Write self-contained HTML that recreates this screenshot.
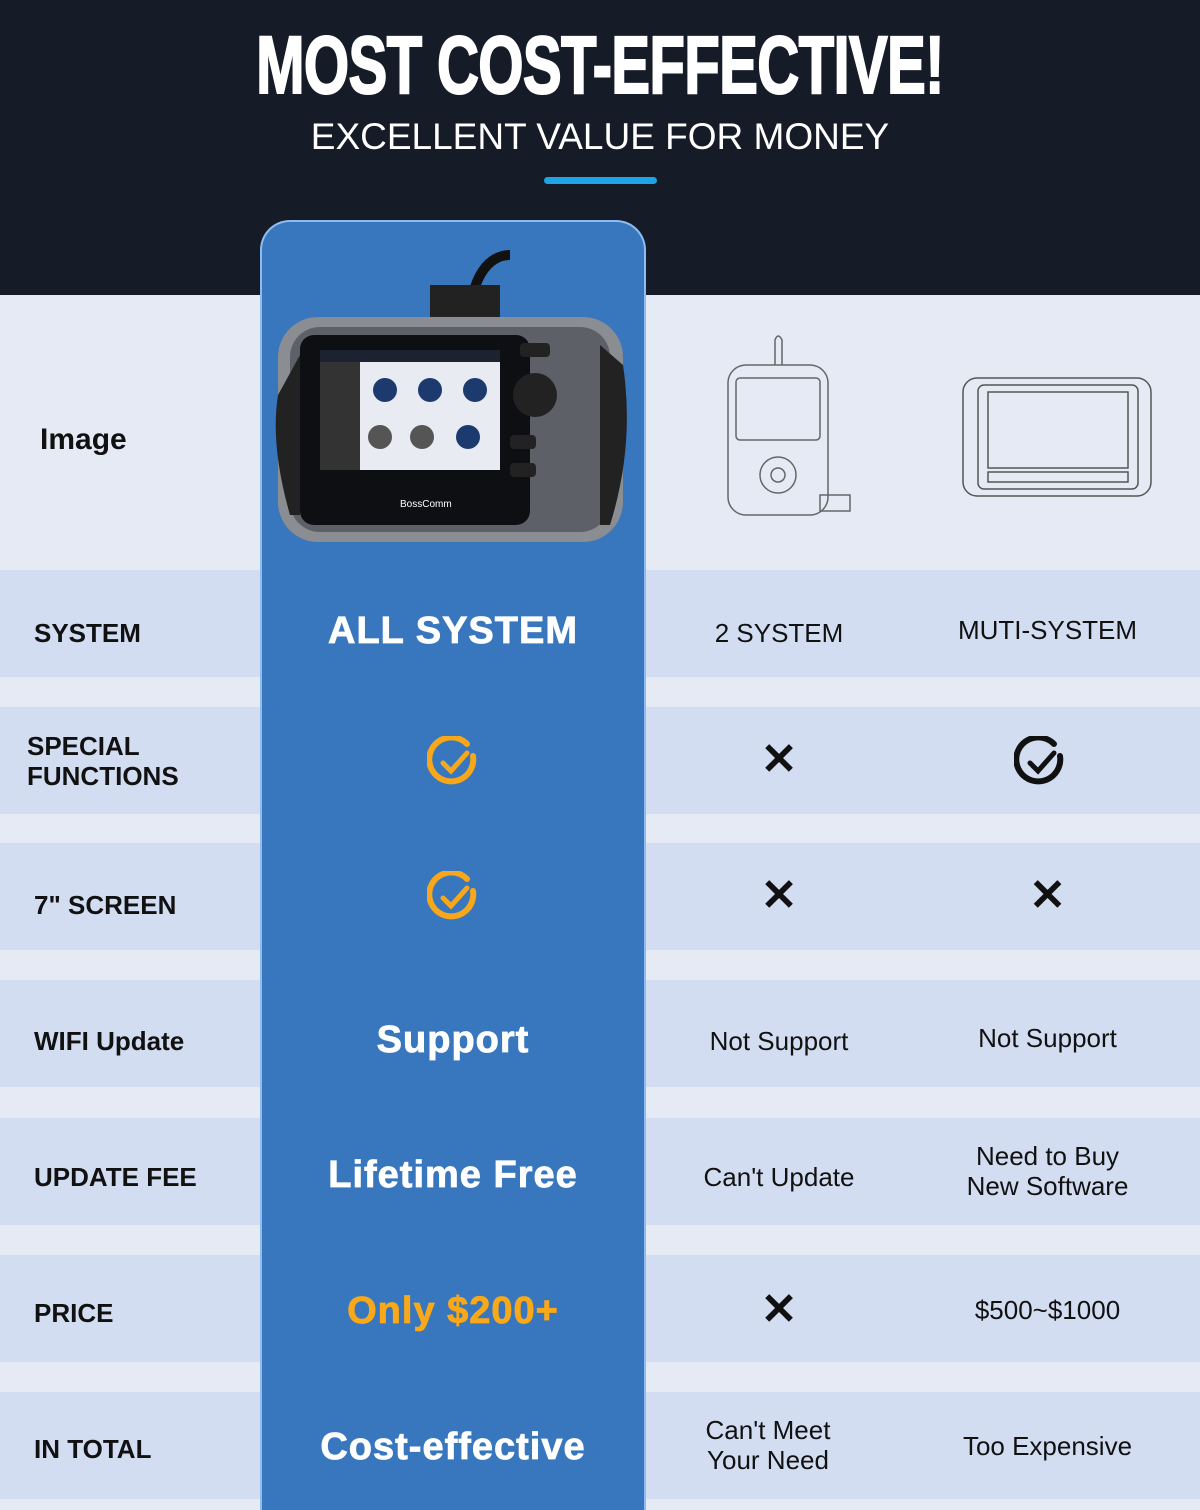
<!DOCTYPE html>
<html><head><meta charset="utf-8"><style>
*{margin:0;padding:0;box-sizing:border-box}
body{width:1200px;height:1500px;position:relative;overflow:hidden;background:#e5eaf5;font-family:"Liberation Sans",sans-serif}
.abs{position:absolute}
.hdr{left:0;top:0;width:1200px;height:295px;background:#151b27}
.title{left:0;top:24px;width:1200px;text-align:center;color:#fff;font-weight:bold;font-size:82px;line-height:84px;transform:scaleX(0.71);letter-spacing:-1px;-webkit-text-stroke:2px #fff}
.sub{left:0;top:116px;width:1200px;text-align:center;color:#fff;font-size:37px}
.bar{left:544px;top:177px;width:113px;height:7px;border-radius:4px;background:#1ea3e6}
.stripe{left:0;width:1200px;height:107px;background:#d3ddf2}
.col{left:260px;top:220px;width:386px;height:1290px;background:#3877bd;border:2px solid #8fbcf0;border-bottom:none;border-radius:30px 30px 0 0}
.lbl{left:34px;font-weight:bold;font-size:26px;color:#111;line-height:30px}
.c1{left:262px;width:382px;text-align:center;color:#fff;font-weight:900;font-size:38px;line-height:40px;letter-spacing:1px;-webkit-text-stroke:0.8px}
.c2{left:648px;width:262px;text-align:center;color:#111;font-size:26px;line-height:30px}
.c3{left:915px;width:265px;text-align:center;color:#111;font-size:26px;line-height:30px}
.x{font-size:44px;font-weight:bold;line-height:44px}
</style></head><body>
<div class="abs hdr"></div>
<div class="abs title">MOST COST-EFFECTIVE!</div>
<div class="abs sub">EXCELLENT VALUE FOR MONEY</div>
<div class="abs bar"></div>
<div class="abs stripe" style="top:570px"></div>
<div class="abs stripe" style="top:707px"></div>
<div class="abs stripe" style="top:843px"></div>
<div class="abs stripe" style="top:980px"></div>
<div class="abs stripe" style="top:1118px"></div>
<div class="abs stripe" style="top:1255px"></div>
<div class="abs stripe" style="top:1392px"></div>
<div class="abs col"></div>

<svg class="abs" style="left:270px;top:245px" width="360" height="310">
<path d="M200 80 C200 30 220 10 240 10" stroke="#111" stroke-width="10" fill="none"/>
<rect x="160" y="40" width="70" height="45" fill="#222"/>
<rect x="8" y="72" width="345" height="225" rx="40" fill="#8a8d92"/>
<rect x="20" y="82" width="320" height="205" rx="30" fill="#5d6066"/>
<rect x="30" y="90" width="230" height="190" rx="14" fill="#0d0f12"/>
<rect x="50" y="105" width="180" height="120" fill="#e8ecf2"/>
<rect x="50" y="105" width="180" height="12" fill="#1c2230"/>
<rect x="50" y="117" width="40" height="108" fill="#333"/>
<circle cx="115" cy="145" r="12" fill="#1d3a6e"/><circle cx="160" cy="145" r="12" fill="#1d3a6e"/><circle cx="205" cy="145" r="12" fill="#1d3a6e"/>
<circle cx="110" cy="192" r="12" fill="#555"/><circle cx="152" cy="192" r="12" fill="#555"/><circle cx="198" cy="192" r="12" fill="#1d3a6e"/>
<rect x="250" y="98" width="30" height="14" rx="4" fill="#222"/>
<circle cx="265" cy="150" r="22" fill="#222"/>
<rect x="240" y="190" width="26" height="14" rx="4" fill="#222"/>
<rect x="240" y="218" width="26" height="14" rx="4" fill="#222"/>
<path d="M8 150 Q0 200 20 270 L30 270 L30 110 Z" fill="#222"/>
<path d="M353 120 Q365 200 340 280 L330 280 L330 100 Z" fill="#222"/>
<text x="130" y="262" fill="#fff" font-size="10" font-family="Liberation Sans">BossComm</text>
</svg>
<svg class="abs" style="left:720px;top:330px" width="140" height="190" fill="none" stroke="#666" stroke-width="1.5">
<path d="M55 35 L55 10 Q58 2 62 10 L62 35"/>
<rect x="8" y="35" width="100" height="150" rx="18"/>
<rect x="16" y="48" width="84" height="62" rx="4"/>
<circle cx="58" cy="145" r="18"/><circle cx="58" cy="145" r="7"/>
<rect x="100" y="165" width="30" height="16"/>
</svg>
<svg class="abs" style="left:958px;top:370px" width="200" height="130" fill="none" stroke="#555" stroke-width="1.5">
<rect x="5" y="8" width="188" height="118" rx="14"/>
<rect x="20" y="15" width="160" height="104" rx="6"/>
<rect x="30" y="22" width="140" height="76"/>
<rect x="30" y="102" width="140" height="10"/>
</svg>

<div class="abs lbl" style="left:40px;top:425px;font-size:30px;font-weight:bold;">Image</div>
<div class="abs lbl" style="top:618px">SYSTEM</div>
<div class="abs lbl" style="left:27px;top:731px">SPECIAL<br>FUNCTIONS</div>
<div class="abs lbl" style="top:890px">7" SCREEN</div>
<div class="abs lbl" style="top:1026px">WIFI Update</div>
<div class="abs lbl" style="top:1162px">UPDATE FEE</div>
<div class="abs lbl" style="top:1298px">PRICE</div>
<div class="abs lbl" style="top:1434px">IN TOTAL</div>

<div class="abs c1" style="top:611px">ALL SYSTEM</div>
<svg class="abs" style="left:427px;top:736px" width="52" height="52"><path d="M40 8 A22 22 0 1 0 46 20" fill="none" stroke="#f7a71b" stroke-width="6" stroke-linecap="round"/><path d="M16 27 L24 35 L40 17" fill="none" stroke="#f7a71b" stroke-width="5" stroke-linecap="round"/></svg>
<svg class="abs" style="left:427px;top:871px" width="52" height="52"><path d="M40 8 A22 22 0 1 0 46 20" fill="none" stroke="#f7a71b" stroke-width="6" stroke-linecap="round"/><path d="M16 27 L24 35 L40 17" fill="none" stroke="#f7a71b" stroke-width="5" stroke-linecap="round"/></svg>
<div class="abs c1" style="top:1020px">Support</div>
<div class="abs c1" style="top:1155px">Lifetime Free</div>
<div class="abs c1" style="top:1291px;color:#f9a81a;-webkit-text-stroke-color:#f9a81a">Only $200+</div>
<div class="abs c1" style="top:1427px">Cost-effective</div>

<div class="abs c2" style="top:618px">2 SYSTEM</div>
<div class="abs c2 x" style="top:738px">✕</div>
<div class="abs c2 x" style="top:874px">✕</div>
<div class="abs c2" style="top:1026px">Not Support</div>
<div class="abs c2" style="top:1162px">Can't Update</div>
<div class="abs c2 x" style="top:1288px">✕</div>
<div class="abs c2" style="top:1415px;left:648px;width:240px">Can't Meet<br>Your Need</div>

<div class="abs c3" style="top:615px">MUTI-SYSTEM</div>
<svg class="abs" style="left:1014px;top:736px" width="52" height="52"><path d="M40 8 A22 22 0 1 0 46 20" fill="none" stroke="#111" stroke-width="6" stroke-linecap="round"/><path d="M16 27 L24 35 L40 17" fill="none" stroke="#111" stroke-width="5" stroke-linecap="round"/></svg>
<div class="abs c3 x" style="top:874px">✕</div>
<div class="abs c3" style="top:1023px">Not Support</div>
<div class="abs c3" style="top:1141px">Need to Buy<br>New Software</div>
<div class="abs c3" style="top:1295px">$500~$1000</div>
<div class="abs c3" style="top:1431px">Too Expensive</div>
</body></html>
